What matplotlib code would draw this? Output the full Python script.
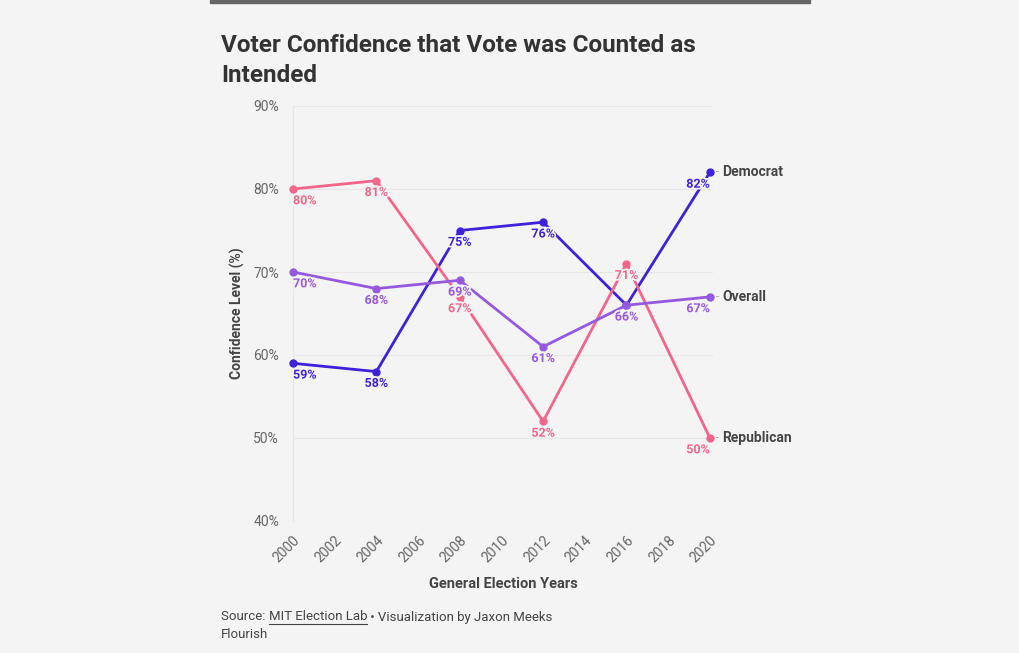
import matplotlib
matplotlib.use("Agg")
import matplotlib.pyplot as plt
import matplotlib.patheffects as pe

plt.rcParams['font.family'] = ['Roboto', 'DejaVu Sans']

BG = '#f4f4f4'

years = [2000, 2004, 2008, 2012, 2016, 2020]
democrat = [59, 58, 75, 76, 66, 82]
republican = [80, 81, 67, 52, 71, 50]
overall = [70, 68, 69, 61, 66, 67]

series = [
    ('Democrat', democrat, '#3f22d8'),
    ('Republican', republican, '#f2668b'),
    ('Overall', overall, '#9658df'),
]

y_ticks = [40, 50, 60, 70, 80, 90]
x_ticks = list(range(2000, 2021, 2))

fig = plt.figure(figsize=(10.2, 6.53), dpi=100)
fig.patch.set_facecolor(BG)
ax = fig.add_axes([293 / 1020, 1 - 521 / 653, 420 / 1020, 415 / 653])
ax.set_facecolor(BG)

# top bar
fig.patches.append(plt.Rectangle((210 / 1020, 1 - 3 / 653), 600 / 1020, 3 / 653,
                                 transform=fig.transFigure, color='#666666', zorder=5))

halo = [pe.withStroke(linewidth=2.5, foreground=BG)]
for name, vals, col in series:
    ax.plot(years, vals, color=col, lw=2.0, marker='o', ms=5, zorder=3, clip_on=False)
    for i, (x, v) in enumerate(zip(years, vals)):
        ha = 'center'
        if i == 0:
            ha = 'left'
        elif i == len(years) - 1:
            ha = 'right'
        ax.annotate(f'{v}%', (x, v), xytext=(0, -8.5), textcoords='offset points',
                    ha=ha, va='center', fontsize=9, fontweight='bold', color=col,
                    path_effects=halo, zorder=4)
    ax.annotate('-', (years[-1], vals[-1]), xytext=(4, 0), textcoords='offset points',
                ha='left', va='center', fontsize=8, color='#999999')
    ax.annotate(name, (years[-1], vals[-1]), xytext=(9, 0), textcoords='offset points',
                ha='left', va='center', fontsize=10, fontweight='bold', color='#444444')

ax.set_xlim(2000, 2020.15)
ax.set_ylim(40, 90)
ax.set_yticks(y_ticks)
ax.set_yticklabels([f'{t}%' for t in y_ticks])
ax.set_xticks(x_ticks)
ax.set_xticklabels([str(t) for t in x_ticks], rotation=45, ha='right', rotation_mode='anchor')
ax.tick_params(axis='both', length=0, labelsize=10, labelcolor='#666666')
ax.tick_params(axis='y', pad=10)
ax.tick_params(axis='x', pad=9)
ax.grid(axis='y', color='#e6e6e6', lw=0.8)
for s in ['top', 'right', 'bottom']:
    ax.spines[s].set_visible(False)
ax.spines['left'].set_color('#e6e6e6')
ax.set_axisbelow(True)

ax.set_ylabel('Confidence Level (%)', fontsize=10, fontweight='bold', color='#444444', labelpad=6)
fig.text(503 / 1020, 1 - 584 / 653, 'General Election Years', fontsize=10.5, fontweight='bold',
         color='#444444', ha='center', va='center')

fig.text(221 / 1020, 1 - 34 / 653, 'Voter Confidence that Vote was Counted as\nIntended',
         fontsize=17.5, fontweight='bold', color='#333333', va='top', ha='left', linespacing=1.4)

# footer
fig.canvas.draw()
r = fig.canvas.get_renderer()
fy = 1 - 617 / 653
x0 = 221 / 1020
t1 = fig.text(x0, fy, 'Source: ', fontsize=9.5, color='#444444', va='center', ha='left')
w1 = t1.get_window_extent(r).width / 1020
t2 = fig.text(x0 + w1, fy, 'MIT Election Lab', fontsize=9.5, color='#444444', va='center', ha='left')
bb = t2.get_window_extent(r)
w2 = bb.width / 1020
fig.add_artist(plt.Line2D([x0 + w1, x0 + w1 + w2], [bb.y0 / 653 - 0.001] * 2,
                          transform=fig.transFigure, color='#444444', lw=0.8))
fig.text(x0 + w1 + w2, fy, ' \u2022 Visualization by Jaxon Meeks', fontsize=9.5, color='#444444',
         va='center', ha='left')
fig.text(x0, 1 - 634 / 653, 'Flourish', fontsize=9.5, color='#444444', va='center', ha='left')

fig.savefig('out.png', dpi=100, facecolor=BG)
